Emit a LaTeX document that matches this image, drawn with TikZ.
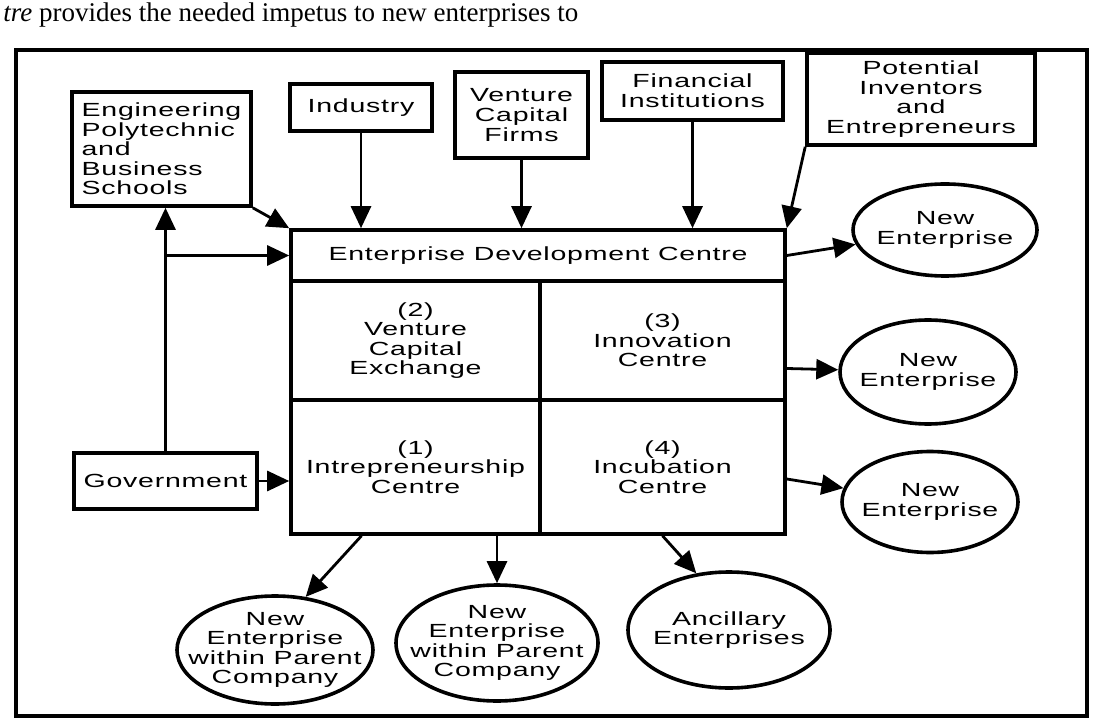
\documentclass[tikz,border=0pt]{standalone}
\usepackage{fontspec}
\setmainfont{Liberation Serif}
\newfontfamily\widesans[FakeStretch=1.5,LetterSpace=4]{Liberation Sans}
\newcommand{\boxfont}{\widesans\fontsize{9.5}{9.8}\selectfont}
\usetikzlibrary{arrows.meta,shapes.geometric}

\begin{document}
\begin{tikzpicture}[x=0.5pt,y=-0.5pt]
        \useasboundingbox (0,0) rectangle (1095,726);
        \node[anchor=base west,inner sep=0pt,font=\fontsize{13.5}{16}\selectfont] (T) at (3,22)
          {\textit{tre} provides the needed impetus to new enterprises to};
        \draw[line width=1.7pt] (16,50) rectangle (1087,716);
        \begin{scope}[every node/.style={draw,line width=1.8pt,inner sep=0pt,align=center,font=\boxfont}]
          \node[minimum width=89.5pt,minimum height=57pt,align=left] (Eng) at (161.5,149) {Engineering\\Polytechnic\\and\\Business\\Schools};
          \node[minimum width=71pt,minimum height=23.5pt] (Ind) at (361,107.5) {Industry};
          \node[minimum width=66.5pt,minimum height=43pt] (VC) at (521.5,115) {Venture\\Capital\\Firms};
          \node[minimum width=90.5pt,minimum height=29pt] (Fin) at (692.5,91) {Financial\\Institutions};
          \node[minimum width=114pt,minimum height=46pt] (Pot) at (921,99) {Potential\\Inventors\\and\\Entrepreneurs};
          \node[minimum width=91.5pt,minimum height=28pt] (Gov) at (165.5,481) {Government};
          \node[minimum width=247pt,minimum height=25.5pt] (EDC) at (538,255.5) {Enterprise Development Centre};
          \node[minimum width=124.5pt,minimum height=59.5pt] (C2) at (415.5,340.5) {(2)\\Venture\\Capital\\Exchange};
          \node[minimum width=122.5pt,minimum height=59.5pt] (C3) at (662.5,340.5) {(3)\\Innovation\\Centre};
          \node[minimum width=124.5pt,minimum height=67pt] (C1) at (415.5,467) {(1)\\Intrepreneurship\\Centre};
          \node[minimum width=122.5pt,minimum height=67pt] (C4) at (662.5,467) {(4)\\Incubation\\Centre};
        \end{scope}
        \begin{scope}[every node/.style={ellipse,draw,line width=1.8pt,inner xsep=-14pt,inner ysep=-8pt,align=center,font=\boxfont}]
          \node[minimum width=92pt,minimum height=46pt] (NE1) at (945,230) {New\\Enterprise};
          \node[minimum width=88pt,minimum height=52pt] (NE2) at (928,372) {New\\Enterprise};
          \node[minimum width=88pt,minimum height=50.5pt] (NE3) at (930,502) {New\\Enterprise};
          \node[minimum width=98pt,minimum height=54pt] (PC1) at (275,650) {New\\Enterprise\\within Parent\\Company};
          \node[minimum width=101pt,minimum height=58pt] (PC2) at (497,643) {New\\Enterprise\\within Parent\\Company};
          \node[minimum width=101pt,minimum height=58pt] (Anc) at (729,630) {Ancillary\\Enterprises};
        \end{scope}
        \begin{scope}[every edge/.style={draw=black,line width=1.4pt,-{Triangle[length=11pt,width=10pt]}}]
          \path (Ind.south) edge (Ind.south |- EDC.north);
          \path (VC.south) edge (VC.south |- EDC.north);
          \path (Fin.south) edge (Fin.south |- EDC.north);
          \path (Pot.south west) edge (EDC.north east);
          \path (Eng.south east) edge (EDC.north west);
          \path (Gov.north) edge (Gov.north |- Eng.south);
          \path (Gov.north |- EDC.west) edge (EDC.west);
          \path (Gov.east) edge (Gov.east -| C1.west);
          \path (EDC.east) edge (NE1);
          \path ([yshift=-14pt]C3.east) edge (NE2);
          \path ([yshift=-6pt]C4.east) edge (NE3);
          \path ([xshift=-27pt]C1.south) edge (PC1.60);
          \path (PC2.north |- C1.south) edge (PC2.north);
          \path (C4.south) edge (Anc.120);
        \end{scope}
\end{tikzpicture}
\end{document}
